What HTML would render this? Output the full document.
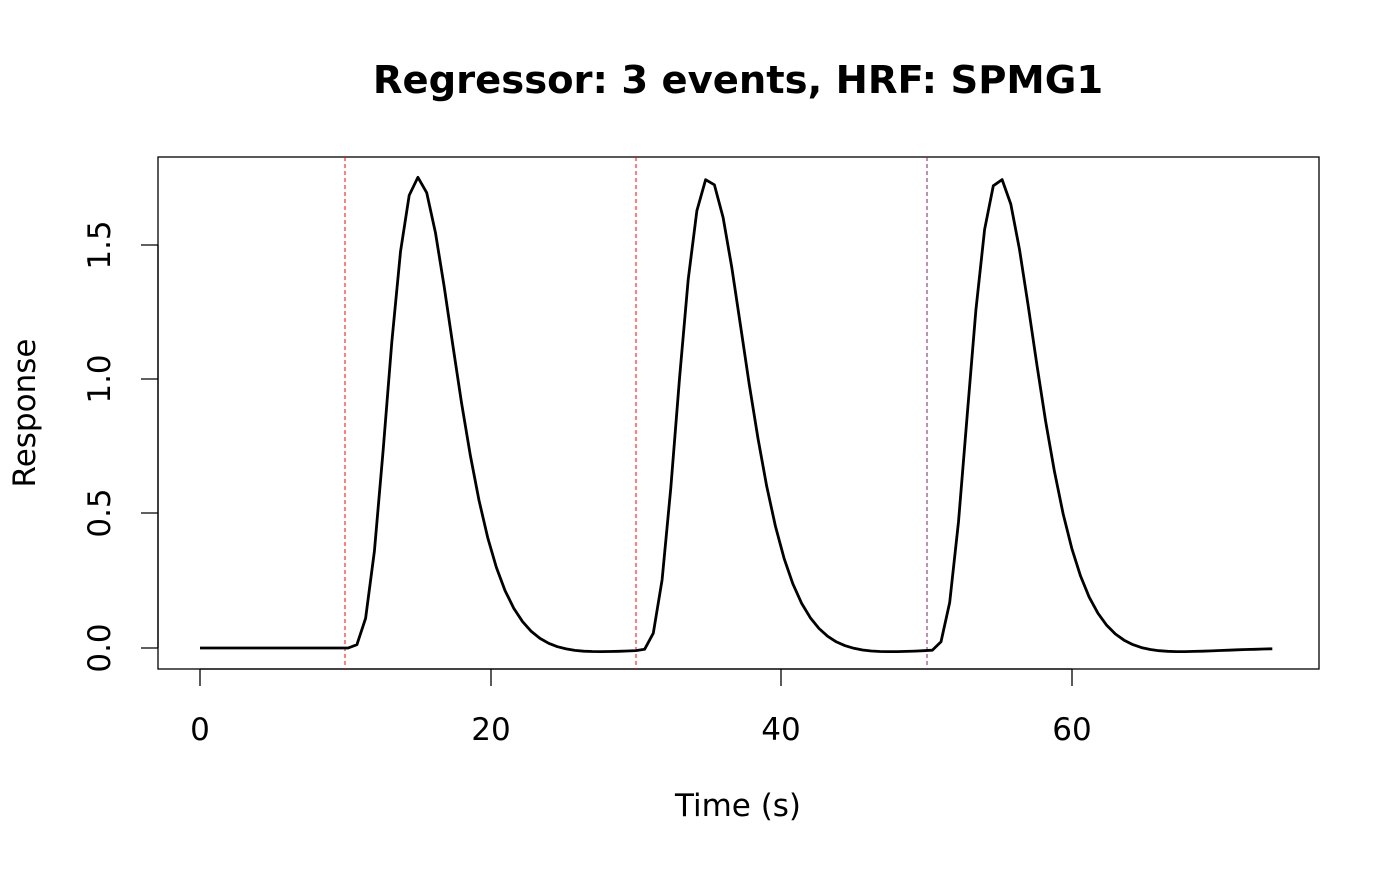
<!DOCTYPE html>
<html><head><meta charset="utf-8"><style>
html,body{margin:0;padding:0;background:#fff;}
svg text{font-family:"DejaVu Sans","Liberation Sans",sans-serif;}
</style></head><body>
<svg id="s" width="1400" height="866" viewBox="0 0 1400 866" xmlns="http://www.w3.org/2000/svg">
<rect width="1400" height="866" fill="#fff"/>
<text x="738" y="93" text-anchor="middle" style="font-size:38.5px;font-weight:bold">Regressor: 3 events, HRF: SPMG1</text>
<rect x="158" y="157" width="1161" height="512" fill="none" stroke="#000" stroke-width="1.3"/>
<g stroke="#000" stroke-width="1.3">
<line x1="200" y1="669" x2="1072" y2="669"/>
<line x1="200" y1="669" x2="200" y2="686"/>
<line x1="491" y1="669" x2="491" y2="686"/>
<line x1="781" y1="669" x2="781" y2="686"/>
<line x1="1072" y1="669" x2="1072" y2="686"/>
<line x1="158" y1="648" x2="141" y2="648"/>
<line x1="158" y1="513" x2="141" y2="513"/>
<line x1="158" y1="379" x2="141" y2="379"/>
<line x1="158" y1="245" x2="141" y2="245"/>
<line x1="158" y1="648" x2="158" y2="245"/>
</g>
<g style="font-size:31px" text-anchor="middle">
<text x="200" y="740">0</text>
<text x="491" y="740">20</text>
<text x="781" y="740">40</text>
<text x="1072" y="740">60</text>
<text x="738" y="816">Time (s)</text>
<text transform="translate(110,648) rotate(-90)">0.0</text>
<text transform="translate(110,513) rotate(-90)">0.5</text>
<text transform="translate(110,379) rotate(-90)">1.0</text>
<text transform="translate(110,245) rotate(-90)">1.5</text>
<text transform="translate(35,413) rotate(-90)">Response</text>
</g>
<g stroke="#ff0000" stroke-width="1" stroke-dasharray="4,3">
<line x1="345" y1="157" x2="345" y2="669"/>
<line x1="636" y1="157" x2="636" y2="669"/>
<line x1="927" y1="157" x2="927" y2="669" stroke="#802060"/>
</g>
<path id="c" fill="none" stroke="#000" stroke-width="2.8" stroke-linejoin="round"/>
</svg>
<script>
function f(t){if(t<0)return 0;return Math.exp(-t)*(Math.pow(t,5)/120-0.02*Math.pow(t,15)/1307674368000);}
var k=1.75/f(5),d="";
for(var t=0;t<=74.01;t+=0.6){var y=(f(t-10)+f(t-30)+f(t-50))*k;
var X=200+t*14.53,Y=648-y*269;d+=(d?"L":"M")+X.toFixed(1)+","+Y.toFixed(1);}
document.getElementById("c").setAttribute("d",d);
</script>
</body></html>
